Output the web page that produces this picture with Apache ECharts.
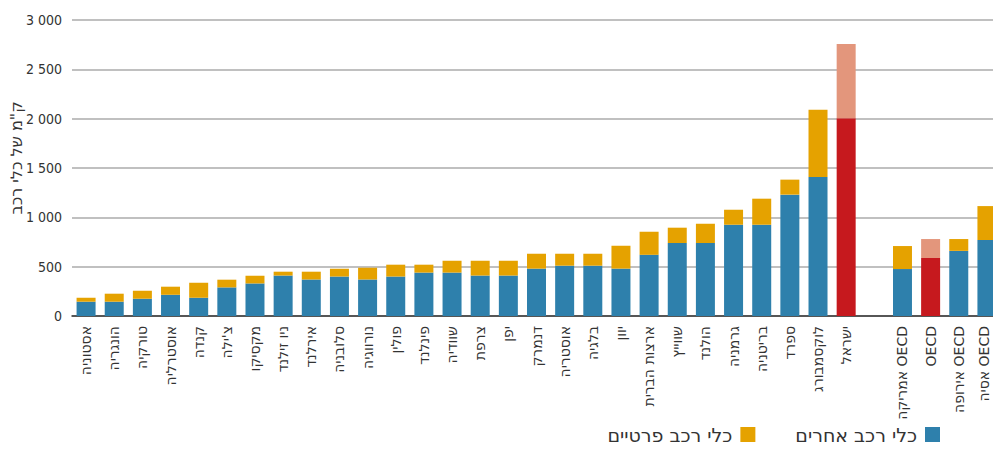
<!DOCTYPE html>
<html>
<head>
<meta charset="utf-8">
<script src="https://cdn.jsdelivr.net/npm/echarts@6/dist/echarts.min.js"></script>
<style>
html,body{margin:0;padding:0;background:#fff;}
#chart{width:993px;height:470px;}
</style>
</head>
<body>
<div id="chart"></div>
<script>
const categories = ['אסטוניה','הונגריה','טורקיה','אוסטרליה','קנדה',"צ'ילה",'מקסיקו','ניו זילנד','אירלנד','סלובניה','נורווגיה','פולין','פינלנד','שוודיה','צרפת','יפן','דנמרק','אוסטריה','בלגיה','יוון','ארצות הברית','שווייץ','הולנד','גרמניה','בריטניה','ספרד','לוקסמבורג','ישראל','','אמריקה OECD','OECD','אירופה OECD','אסיה OECD'];
const otherVehicles = [145,145,175,215,185,290,330,410,370,400,370,400,440,440,410,410,480,510,510,480,620,740,740,925,925,1230,1410,2005,null,476,588,660,770];
const privateVehicles = [40,81,81,82,152,78,78,39,79,79,119,120,80,120,150,150,151,121,121,232,234,155,195,152,264,152,680,751,null,233,192,120,344];
const highlighted = ['ישראל','OECD'];
const yTickValues = [0,500,1000,1500,2000,2500,3000];
const yTickLabels = ['0','500','1 000','1 500','2 000','2 500','3 000'];
const seriesNames = ['כלי רכב אחרים','כלי רכב פרטיים'];
const yTitle = 'ק"מ של כלי רכב';

const colors = {other:'#2E80AC', priv:'#E5A200', otherHi:'#C6191E', privHi:'#E3967C'};

function build(values, base, hi){
  return values.map((v,i)=> highlighted.indexOf(categories[i])>=0
    ? {value:v, itemStyle:{color:hi}} : {value:v, itemStyle:{color:base}});
}
// last label sits at the right edge: nudge it slightly inward
const xData = categories.map((c,i)=> i===categories.length-1
  ? {value:c, textStyle:{verticalAlign:'bottom', lineHeight:6}} : c);

const chart = echarts.init(document.getElementById('chart'), null, {renderer:'svg'});
const numFont = "'Liberation Sans Narrow','DejaVu Sans Condensed',sans-serif";
const hebFont = "'DejaVu Sans',sans-serif";
chart.setOption({
  animation:false,
  backgroundColor:'#fff',
  grid:{left:72, top:20, width:929, height:296, containLabel:false, outerBoundsMode:'none'},
  graphic:[{
    type:'text', x:16, y:158, rotation:Math.PI/2,
    style:{text:yTitle, fontSize:16, fontFamily:hebFont, fill:'#333', align:'center', verticalAlign:'middle'}
  }],
  legend:{
    data:[seriesNames[1], seriesNames[0]],
    right:48, top:420,
    align:'right',
    itemWidth:15, itemHeight:15, itemGap:40,
    icon:'rect',
    textStyle:{fontSize:19, color:'#333', fontFamily:hebFont, padding:[0,3,0,0]}
  },
  xAxis:{
    type:'category',
    data:xData,
    axisLine:{lineStyle:{color:'#333', width:1.5}},
    axisTick:{show:false},
    axisLabel:{interval:0, rotate:90, margin:10, fontSize:14, color:'#333', fontFamily:hebFont}
  },
  yAxis:{
    type:'value', min:0, max:3000, interval:500,
    axisLine:{show:false}, axisTick:{show:false},
    splitLine:{lineStyle:{color:'#ababab', width:1.5}},
    axisLabel:{fontSize:14, color:'#333', margin:10, fontFamily:numFont,
      formatter:function(v){const i=yTickValues.indexOf(v); return i>=0?yTickLabels[i]:'';}}
  },
  series:[
    {name:seriesNames[0], type:'bar', stack:'total', barWidth:19, itemStyle:{color:colors.other},
      data:build(otherVehicles, colors.other, colors.otherHi)},
    {name:seriesNames[1], type:'bar', stack:'total', barWidth:19, itemStyle:{color:colors.priv},
      data:build(privateVehicles, colors.priv, colors.privHi)}
  ]
});
</script>
</body>
</html>
